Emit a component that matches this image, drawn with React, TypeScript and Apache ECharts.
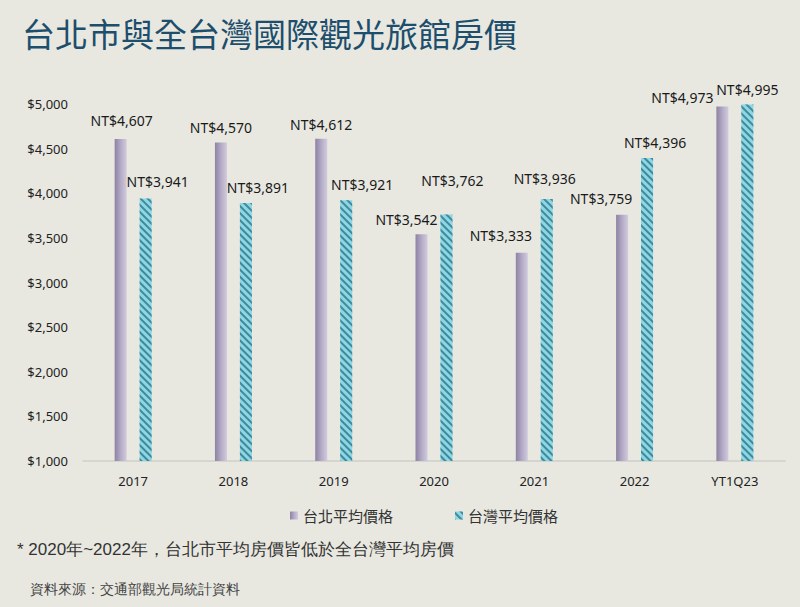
import React, { useEffect, useRef } from "react";
import * as echarts from "echarts";

const categories = ["2017", "2018", "2019", "2020", "2021", "2022", "YT1Q23"];
const taipeiAvg = [4607, 4570, 4612, 3542, 3333, 3759, 4973];
const taiwanAvg = [3941, 3891, 3921, 3762, 3936, 4396, 4995];
const seriesNames = ["台北平均價格", "台灣平均價格"];
const titleText = "台北市與全台灣國際觀光旅館房價";
const noteText = "* 2020年~2022年，台北市平均房價皆低於全台灣平均房價";
const sourceText = "資料來源：交通部觀光局統計資料";

// label nudges (style only)
const taipeiLabelOffsets = [[1, -7], [0, -3], [0, -2], [-15, -3], [-21, -5], [-21, -4], [-40, 3]];
const taiwanLabelOffsets = [[12, -5], [12, -3], [16, -4], [6, -22], [-2, -8], [8, -3], [0, -3]];

const fmt = (v: number) => "NT$" + v.toLocaleString("en-US");

export default function App() {
  const ref = useRef<HTMLDivElement>(null);
  useEffect(() => {
    if (!ref.current) return;
    const chart = echarts.init(ref.current, undefined, { renderer: "svg" });
    const font = "'Noto Sans', 'Noto Sans CJK TC', sans-serif";
    const purple = new echarts.graphic.LinearGradient(0, 0, 1, 0, [
      { offset: 0, color: "#8d82a2" },
      { offset: 0.5, color: "#b3aac6" },
      { offset: 1, color: "#d2cbde" },
    ]);
    const labelBase = {
      show: true,
      position: "top",
      distance: 5,
      fontSize: 14,
      color: "#1a1a1a",
      fontFamily: font,
      formatter: (p: any) => fmt(p.value),
    };
    chart.setOption({
      animation: false,
      backgroundColor: "#e8e8e1",
      textStyle: { fontFamily: font },
      title: {
        text: titleText,
        left: 17,
        top: 11,
        textStyle: {
          fontSize: 33,
          fontWeight: "normal",
          color: "#1d4e6c",
          fontFamily: "'Noto Sans CJK TC', sans-serif",
        },
      },
      legend: {
        data: [
          { name: seriesNames[0], icon: "rect" },
          { name: seriesNames[1], icon: "rect" },
        ],
        left: 285,
        top: 503,
        itemWidth: 8,
        itemHeight: 8,
        itemGap: 62,
        textStyle: { fontSize: 15, color: "#333", fontFamily: "'Noto Sans CJK TC', sans-serif" },
      },
      grid: { left: 83, right: 15, top: 104, bottom: 146, containLabel: false },
      xAxis: {
        type: "category",
        data: categories,
        axisLine: { show: true, lineStyle: { color: "#cfcfc8", width: 1.5 } },
        axisTick: { show: false },
        axisLabel: { fontSize: 13, color: "#222", margin: 13, fontFamily: font },
      },
      yAxis: {
        type: "value",
        min: 1000,
        max: 5000,
        interval: 500,
        axisLine: { show: false },
        axisTick: { show: false },
        splitLine: { show: false },
        axisLabel: {
          fontSize: 13,
          color: "#222",
          margin: 15,
          fontFamily: font,
          formatter: (v: number) => "$" + v.toLocaleString("en-US"),
        },
      },
      graphic: [
        {
          type: "text",
          left: 17,
          top: 541,
          style: { text: noteText, fontSize: 17, fill: "#333", font: "17.3px 'Noto Sans CJK TC', sans-serif" },
        },
        {
          type: "text",
          left: 30,
          top: 582,
          style: { text: sourceText, fontSize: 14, fill: "#444", font: "14px 'Noto Sans CJK TC', sans-serif" },
        },
      ],
      series: [
        {
          name: seriesNames[0],
          type: "bar",
          barWidth: 12,
          barGap: "108%",
          itemStyle: { color: purple },
          data: taipeiAvg.map((v, i) => ({
            value: v,
            label: { ...labelBase, offset: taipeiLabelOffsets[i] },
          })),
          label: labelBase,
        },
        {
          name: seriesNames[1],
          type: "bar",
          barWidth: 12,
          itemStyle: {
            color: "#8fd5e2",
            decal: {
              symbol: "rect",
              symbolSize: 1,
              dashArrayX: [1, 0],
              dashArrayY: [1.5, 2.2],
              rotation: Math.PI / 4,
              color: "#3b8a9d",
            },
          },
          data: taiwanAvg.map((v, i) => ({
            value: v,
            label: { ...labelBase, offset: taiwanLabelOffsets[i] },
          })),
          label: labelBase,
        },
      ],
    });
    return () => chart.dispose();
  }, []);
  return (
    <div
      ref={ref}
      style={{ position: "fixed", left: 0, top: 0, width: 800, height: 607 }}
    />
  );
}
